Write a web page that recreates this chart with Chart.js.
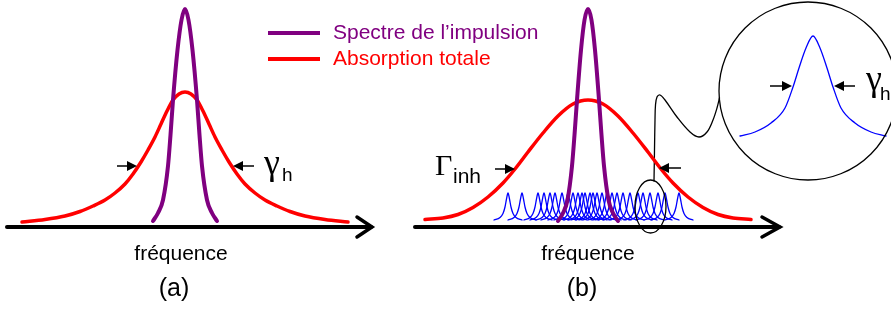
<!DOCTYPE html>
<html>
<head>
<meta charset="utf-8">
<script src="https://cdn.jsdelivr.net/npm/chart.js@4/dist/chart.umd.min.js"></script>
<style>
  html, body { margin: 0; padding: 0; background: #fff; }
  canvas { display: block; }
</style>
</head>
<body>
<canvas id="fig" width="891" height="313"></canvas>
<script>
// x: frequency position across the figure, y: height above the frequency axis

// (a) homogeneous line: total absorption (red) and pulse spectrum (purple)
const redAx = [22, 45, 65, 80, 93, 105, 115, 125, 133, 141, 148, 155, 161, 167, 173, 179, 185,
  191, 197, 203, 209, 215, 222, 229, 237, 245, 255, 265, 277, 290, 305, 325, 348];
const redAy = [5, 7.5, 11, 15.5, 21, 27, 34, 43, 53, 65, 77, 90, 103, 116, 127, 133, 135,
  133, 127, 116, 103, 90, 77, 65, 53, 43, 34, 27, 21, 15.5, 11, 7.5, 5];
const purpleAx = [153, 158, 163, 168, 170.5, 173, 177.5, 181.5, 185, 188.5, 192.5, 197, 199.5, 202, 207, 212, 217];
const purpleAy = [6, 14, 27, 61, 92, 127, 177, 207, 218, 207, 177, 127, 92, 61, 27, 14, 6];

// (b) inhomogeneous line
const redBx = [425, 443, 458, 473, 488, 503, 515, 528, 543, 558, 573, 588, 603, 618, 633, 648, 661, 673, 688, 703, 718, 733, 751];
const redBy = [7.5, 9, 12.5, 19.5, 30, 44, 58, 75, 94, 111, 123, 127, 123, 111, 94, 75, 58, 44, 30, 19.5, 12.5, 9, 7.5];
const purpleBx = [558, 563, 567.5, 572, 574.5, 577, 581, 584.5, 588, 591.5, 595, 599, 601.5, 604, 608.5, 613, 618];
const purpleBy = [6, 14, 27, 61, 92, 127, 177, 207, 218, 207, 177, 127, 92, 61, 27, 14, 6];

// individual homogeneous packets (blue)
const packetCenters = [508, 522, 538, 544, 550, 555, 562, 568, 573, 578, 582, 585, 590, 593, 597, 602, 607, 612, 617, 623, 630, 638, 643, 650, 658, 665, 679];
const packetDx = [-14, -8, -5, -3, -1.5, 0, 1.5, 3, 5, 8, 14];
const packetY = [7, 9.5, 13.5, 20, 28, 34, 28, 20, 13.5, 9.5, 7];

// zoomed packet inside the circle
const insetX = [740, 755, 771, 785, 793, 799, 806, 813, 820, 827, 833, 841, 855, 871, 886];
const insetY = [91, 95, 104, 119, 140, 159, 179, 191, 179, 159, 140, 119, 104, 95, 91];

// connector from the small ellipse to the circle
const linkX = [654, 654.5, 655, 655.5, 657, 660, 665, 677, 690, 699, 707, 713, 717, 719.5];
const linkY = [46, 77, 107, 122, 130, 132, 127, 110, 95, 90, 95, 107, 119, 129];

// frequency axes with arrow heads
const axisAx = [7, 371];
const axisBx = [415, 779];
const headAx = [357, 372, 357];
const headBx = [762, 780, 762];
const headY = [10, 0, -10];

// width markers: [tail, tip, height]
const widthArrows = [
  [117, 137, 61], [254, 233, 61],
  [495, 515, 58], [681, 659, 59],
  [770, 792, 141], [855, 834, 141],
];

const PURPLE = "#800080";
const RED = "#ff0000";
const BLUE = "#0000ff";

const pts = (xs, ys) => xs.map((x, i) => ({ x, y: ys[i] }));

const curve = (data, color, width, order, extra = {}) => ({
  data,
  showLine: true,
  borderColor: color,
  borderWidth: width,
  pointRadius: 0,
  cubicInterpolationMode: "monotone",
  borderCapStyle: "round",
  order,
  ...extra,
});

const datasets = [
  curve(pts(axisAx, [0, 0]), "#000", 4, 0),
  curve(pts(headAx, headY), "#000", 3.5, 0, { cubicInterpolationMode: "default", tension: 0 }),
  curve(pts(axisBx, [0, 0]), "#000", 4, 0),
  curve(pts(headBx, headY), "#000", 3.5, 0, { cubicInterpolationMode: "default", tension: 0 }),
  curve(pts(purpleAx, purpleAy), PURPLE, 4, 1),
  curve(pts(purpleBx, purpleBy), PURPLE, 4, 1),
  curve(pts(redAx, redAy), RED, 3.5, 2),
  curve(pts(redBx, redBy), RED, 3.5, 2),
  curve(pts(insetX, insetY), BLUE, 1.3, 3),
  curve(pts(linkX, linkY), "#000", 1.3, 3, { cubicInterpolationMode: "default", tension: 0.35 }),
];
for (const c of packetCenters) {
  datasets.push(curve(pts(packetDx.map((d) => c + d), packetY), BLUE, 1.3, 4));
}

const annotations = {
  id: "annotations",
  afterDatasetsDraw(chart) {
    const { ctx } = chart;
    const sx = chart.scales.x;
    const sy = chart.scales.y;
    const X = (v) => sx.getPixelForValue(v);
    const Y = (v) => sy.getPixelForValue(v);
    ctx.save();

    // legend
    ctx.lineWidth = 4;
    ctx.strokeStyle = PURPLE;
    ctx.beginPath(); ctx.moveTo(X(268), Y(194)); ctx.lineTo(X(320), Y(194)); ctx.stroke();
    ctx.strokeStyle = RED;
    ctx.beginPath(); ctx.moveTo(X(268), Y(168)); ctx.lineTo(X(320), Y(168)); ctx.stroke();
    ctx.font = "21px 'Liberation Sans', Arial, sans-serif";
    ctx.textAlign = "left";
    ctx.textBaseline = "alphabetic";
    ctx.fillStyle = PURPLE;
    ctx.fillText("Spectre de l\u2019impulsion", X(333), Y(188.5));
    ctx.fillStyle = RED;
    ctx.fillText("Absorption totale", X(333), Y(162));

    // axis labels
    ctx.fillStyle = "#000";
    ctx.textAlign = "center";
    ctx.fillText("fréquence", X(181), Y(-33));
    ctx.fillText("fréquence", X(588), Y(-33));
    ctx.font = "25px 'Liberation Sans', Arial, sans-serif";
    ctx.fillText("(a)", X(174), Y(-69));
    ctx.fillText("(b)", X(582), Y(-69));

    // widths
    ctx.textAlign = "left";
    ctx.font = "30px 'Liberation Serif', serif";
    ctx.fillText("\u0393", X(435), Y(52));
    ctx.font = "36px 'Liberation Serif', serif";
    ctx.fillText("\u03b3", X(264), Y(53));
    ctx.fillText("\u03b3", X(866), Y(137));
    ctx.font = "21px 'Liberation Sans', Arial, sans-serif";
    ctx.fillText("inh", X(453), Y(44));
    ctx.font = "19px 'Liberation Sans', Arial, sans-serif";
    ctx.fillText("h", X(282), Y(46));
    ctx.fillText("h", X(880), Y(127));

    ctx.strokeStyle = "#000";
    ctx.fillStyle = "#000";
    ctx.lineWidth = 1.5;
    for (const [tail, tip, h] of widthArrows) {
      const dir = Math.sign(X(tip) - X(tail));
      const y = Y(h);
      ctx.beginPath();
      ctx.moveTo(X(tail), y);
      ctx.lineTo(X(tip) - dir * 6, y);
      ctx.stroke();
      ctx.beginPath();
      ctx.moveTo(X(tip), y);
      ctx.lineTo(X(tip) - dir * 10, y - 5);
      ctx.lineTo(X(tip) - dir * 10, y + 5);
      ctx.closePath();
      ctx.fill();
    }

    // magnifier circle and ellipse
    ctx.lineWidth = 1.3;
    ctx.beginPath();
    ctx.arc(X(808), Y(136), X(897) - X(808), 0, Math.PI * 2);
    ctx.stroke();
    ctx.beginPath();
    ctx.ellipse(X(650.5), Y(20.5), X(666) - X(650.5), Y(20.5) - Y(47), 0, 0, Math.PI * 2);
    ctx.stroke();

    ctx.restore();
  },
};

new Chart(document.getElementById("fig"), {
  type: "scatter",
  data: { datasets },
  options: {
    responsive: false,
    animation: false,
    layout: { padding: 0 },
    scales: {
      x: { type: "linear", min: 0, max: 891, display: false },
      y: { type: "linear", min: -86, max: 227, display: false },
    },
    plugins: {
      legend: { display: false },
      tooltip: { enabled: false },
    },
  },
  plugins: [annotations],
});
</script>
</body>
</html>
